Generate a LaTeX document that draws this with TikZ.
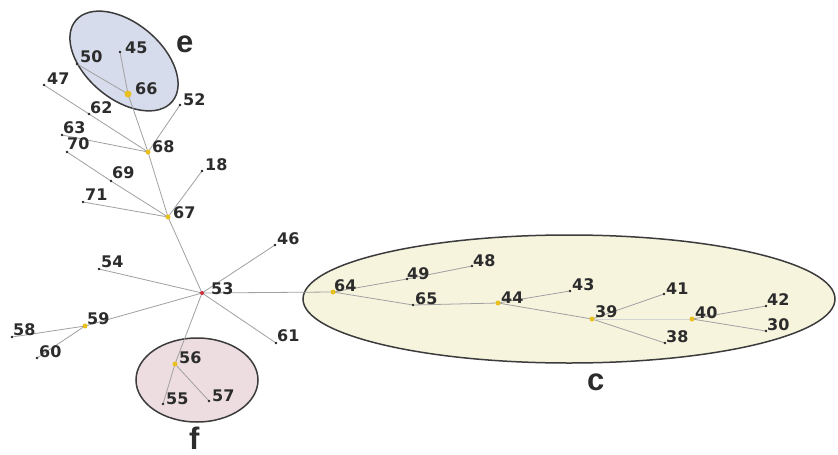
\documentclass[tikz,border=0pt]{standalone}
\usepackage{fontspec}
\setmainfont{DejaVu Sans}
\newfontfamily\grpfont{Liberation Sans}
\usetikzlibrary{shapes.geometric}

\definecolor{edgegray}{HTML}{A0A0A0}
\definecolor{rimgray}{HTML}{3C3C3C}
\definecolor{txtgray}{HTML}{2C2C2C}
\definecolor{fillE}{HTML}{D6DCEB}
\definecolor{fillF}{HTML}{EDDDE1}
\definecolor{fillC}{HTML}{F7F4DE}
\definecolor{hubyellow}{HTML}{E8C020}
\definecolor{rootred}{HTML}{D03040}

% clusters at the back, tree edges above them, vertices and numbers on top
\pgfdeclarelayer{clusters}
\pgfdeclarelayer{edges}
\pgfsetlayers{clusters,edges,main}

\tikzset{
  leaf/.style={circle, fill=black!85, inner sep=0pt, minimum size=2.8pt},
  hub/.style={circle, fill=hubyellow, inner sep=0pt, minimum size=5pt},
  bighub/.style={hub, minimum size=7pt},
  root/.style={circle, fill=rootred, inner sep=0pt, minimum size=4pt},
  num/.style={anchor=base west, inner sep=0pt, text=txtgray,
              font=\fontsize{16}{16}\selectfont\bfseries},
  grplbl/.style={anchor=base west, inner sep=0pt, text=txtgray,
              font=\grpfont\fontsize{31}{31}\selectfont\bfseries},
  group/.style={ellipse, draw=rimgray, line width=1.5pt, inner sep=0pt},
  link/.style={draw=edgegray, line width=0.8pt},
  faintlink/.style={draw=edgegray!45, line width=0.8pt},
}

\begin{document}
\begin{tikzpicture}[x=1pt, y=-1pt]
\useasboundingbox (0,0) rectangle (838,455);

% paper and cluster outlines
\begin{pgfonlayer}{clusters}
\fill[white] (0,0) rectangle (838,455);
\node[group, fill=fillE, minimum width=126pt, minimum height=76pt, rotate=-40] (grpE) at (124,61) {};
\node[group, fill=fillF, minimum width=122pt, minimum height=84pt] (grpF) at (197,380) {};
\node[group, fill=fillC, minimum width=532pt, minimum height=128pt] (grpC) at (569,299) {};
\end{pgfonlayer}

% vertices
\node[leaf] (n45) at (120,52) {};
\node[leaf] (n50) at (77,64) {};
\node[bighub] (n66) at (128,94) {};
\node[leaf] (n47) at (44,85) {};
\node[leaf] (n62) at (89,114) {};
\node[leaf] (n52) at (180,105) {};
\node[leaf] (n63) at (62,135) {};
\node[leaf] (n70) at (67,152) {};
\node[hub] (n68) at (148,152) {};
\node[leaf] (n18) at (202,171) {};
\node[leaf] (n69) at (111,181) {};
\node[leaf] (n71) at (83,202) {};
\node[hub] (n67) at (168,217) {};
\node[leaf] (n46) at (275,245) {};
\node[leaf] (n54) at (99,269) {};
\node[root] (n53) at (202,293) {};
\node[hub] (n59) at (85,326) {};
\node[leaf] (n58) at (12,337) {};
\node[leaf] (n60) at (37,358) {};
\node[leaf] (n61) at (276,343) {};
\node[hub] (n56) at (175,364) {};
\node[leaf] (n55) at (163,404) {};
\node[leaf] (n57) at (209,401) {};
\node[hub] (n64) at (333,292) {};
\node[leaf] (n49) at (407,279) {};
\node[leaf] (n48) at (472,266) {};
\node[leaf] (n65) at (413,305) {};
\node[hub] (n44) at (498,303) {};
\node[leaf] (n43) at (570,291) {};
\node[hub] (n39) at (592,319) {};
\node[leaf] (n41) at (664,294) {};
\node[leaf] (n38) at (665,343) {};
\node[hub] (n40) at (692,319) {};
\node[leaf] (n42) at (766,306) {};
\node[leaf] (n30) at (766,331) {};

% tree edges, centre to centre
\begin{pgfonlayer}{edges}
\path[link]
  (n45.center) -- (n66.center)  (n50.center) -- (n66.center)
  (n66.center) -- (n68.center)  (n52.center) -- (n68.center)
  (n47.center) -- (n62.center)  (n62.center) -- (n68.center)
  (n63.center) -- (n68.center)  (n68.center) -- (n67.center)
  (n18.center) -- (n67.center)  (n70.center) -- (n69.center)
  (n69.center) -- (n67.center)  (n71.center) -- (n67.center)
  (n67.center) -- (n53.center)  (n46.center) -- (n53.center)
  (n54.center) -- (n53.center)  (n53.center) -- (n59.center)
  (n59.center) -- (n58.center)  (n59.center) -- (n60.center)
  (n53.center) -- (n61.center)  (n53.center) -- (n56.center)
  (n56.center) -- (n55.center)  (n56.center) -- (n57.center)
  (n53.center) -- (n64.center)
  (n64.center) -- (n49.center)  (n49.center) -- (n48.center)
  (n64.center) -- (n65.center)  (n65.center) -- (n44.center)
  (n44.center) -- (n43.center)  (n44.center) -- (n39.center)
  (n39.center) -- (n41.center)  (n39.center) -- (n38.center)
  (n40.center) -- (n42.center)  (n40.center) -- (n30.center);
\path[faintlink] (n39.center) -- (n40.center);
\end{pgfonlayer}

% vertex numbers
\node[num] (t45) at (125,53) {45};
\node[num] (t50) at (80,62) {50};
\node[num] (t66) at (135,94) {66};
\node[num] (t47) at (47,84) {47};
\node[num] (t62) at (90,113) {62};
\node[num] (t52) at (183,105) {52};
\node[num] (t63) at (63,133) {63};
\node[num] (t70) at (67,149) {70};
\node[num] (t68) at (152,152) {68};
\node[num] (t18) at (205,170) {18};
\node[num] (t69) at (112,178) {69};
\node[num] (t71) at (85,200) {71};
\node[num] (t67) at (173,218) {67};
\node[num] (t46) at (277,244) {46};
\node[num] (t54) at (101,267) {54};
\node[num] (t53) at (211,294) {53};
\node[num] (t59) at (87,324) {59};
\node[num] (t58) at (13,335) {58};
\node[num] (t60) at (39,357) {60};
\node[num] (t61) at (277,341) {61};
\node[num] (t56) at (179,363) {56};
\node[num] (t55) at (166,404) {55};
\node[num] (t57) at (212,401) {57};
\node[num] (t64) at (334,291) {64};
\node[num] (t49) at (407,279) {49};
\node[num] (t48) at (473,266) {48};
\node[num] (t65) at (415,304) {65};
\node[num] (t44) at (501,303) {44};
\node[num] (t43) at (572,290) {43};
\node[num] (t39) at (595,317) {39};
\node[num] (t41) at (666,294) {41};
\node[num] (t38) at (666,342) {38};
\node[num] (t40) at (695,318) {40};
\node[num] (t42) at (767,305) {42};
\node[num] (t30) at (767,330) {30};

% cluster letters
\node[grplbl] (lblE) at (176,52) {e};
\node[grplbl] (lblC) at (587,390) {c};
\node[grplbl] (lblF) at (189,449) {f};
\end{tikzpicture}
\end{document}
